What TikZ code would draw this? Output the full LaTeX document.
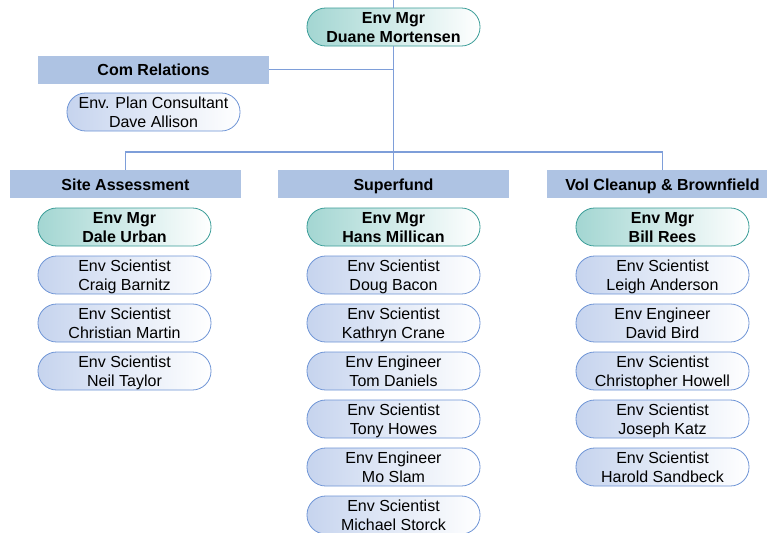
\documentclass[tikz,border=0pt]{standalone}
\usepackage{fontspec}
\setmainfont{Liberation Sans}
\definecolor{hdrfill}{HTML}{AEC3E3}
\definecolor{empdraw}{HTML}{6F95D6}
\definecolor{empfill}{HTML}{C6D4EE}
\definecolor{mgrdraw}{HTML}{3A9D98}
\definecolor{mgrfill}{HTML}{A3D6D2}
\definecolor{linec}{HTML}{7E9ED9}
\begin{document}
\begin{tikzpicture}[x=0.75pt,y=-0.75pt,
  every node/.style={font=\fontsize{12}{14.25}\selectfont, align=center, inner sep=0pt},
  emp/.style={draw=empdraw, line width=0.6pt, left color=empfill, right color=white,
    rounded corners=14pt, minimum width=129.75pt, minimum height=28.5pt, text depth=0pt},
  mgr/.style={draw=mgrdraw, line width=0.6pt, left color=mgrfill, right color=white,
    rounded corners=14pt, minimum width=129.75pt, minimum height=28.5pt, text depth=0pt,
    font=\fontsize{12}{14.25}\selectfont\bfseries},
  hdr/.style={fill=hdrfill, minimum width=173.25pt, minimum height=21pt,
    text height=9.6pt, text depth=0pt,
    font=\fontsize{12}{14.25}\selectfont\bfseries},
  conn/.style={draw=linec, line width=0.8pt}]
\useasboundingbox (0,0) rectangle (767,532);
\fill[white] (0,0) rectangle (767,532);
% top
\coordinate (topin) at (393.5,0);
\node[mgr] (top) at (393.5,27) {Env Mgr\\Duane Mortensen};
\node[hdr] (com) at (153.5,69.5) {Com Relations};
\node[emp] (plan) at (153.5,112) {Env. Plan Consultant\\Dave Allison};
% headers
\node[hdr] (h1) at (125.5,184) {Site Assessment};
\node[hdr] (h2) at (393.5,184) {Superfund};
\node[hdr] (h3) at (662.5,184) {Vol Cleanup \& Brownfield};
\coordinate (busM) at (393.5,152);
% connectors
\draw[conn] (topin) -- (top.north);
\draw[conn] (top.south) -- (busM);
\draw[conn] (com.east) -- (com.east -| top);
\draw[conn] (h1.north) |- (busM) -| (h3.north);
\draw[conn] (busM) -- (h2.north);
% column 1
\node[mgr] (m1) at (124.5,227) {Env Mgr\\Dale Urban};
\node[emp] (a1) at (124.5,275) {Env Scientist\\Craig Barnitz};
\node[emp] (a2) at (124.5,323) {Env Scientist\\Christian Martin};
\node[emp] (a3) at (124.5,371) {Env Scientist\\Neil Taylor};
% column 2
\node[mgr] (m2) at (393.5,227) {Env Mgr\\Hans Millican};
\node[emp] (b1) at (393.5,275) {Env Scientist\\Doug Bacon};
\node[emp] (b2) at (393.5,323) {Env Scientist\\Kathryn Crane};
\node[emp] (b3) at (393.5,371) {Env Engineer\\Tom Daniels};
\node[emp] (b4) at (393.5,419) {Env Scientist\\Tony Howes};
\node[emp] (b5) at (393.5,467) {Env Engineer\\Mo Slam};
\node[emp] (b6) at (393.5,515) {Env Scientist\\Michael Storck};
% column 3
\node[mgr] (m3) at (662.5,227) {Env Mgr\\Bill Rees};
\node[emp] (c1) at (662.5,275) {Env Scientist\\Leigh Anderson};
\node[emp] (c2) at (662.5,323) {Env Engineer\\David Bird};
\node[emp] (c3) at (662.5,371) {Env Scientist\\Christopher Howell};
\node[emp] (c4) at (662.5,419) {Env Scientist\\Joseph Katz};
\node[emp] (c5) at (662.5,467) {Env Scientist\\Harold Sandbeck};
\end{tikzpicture}
\end{document}
